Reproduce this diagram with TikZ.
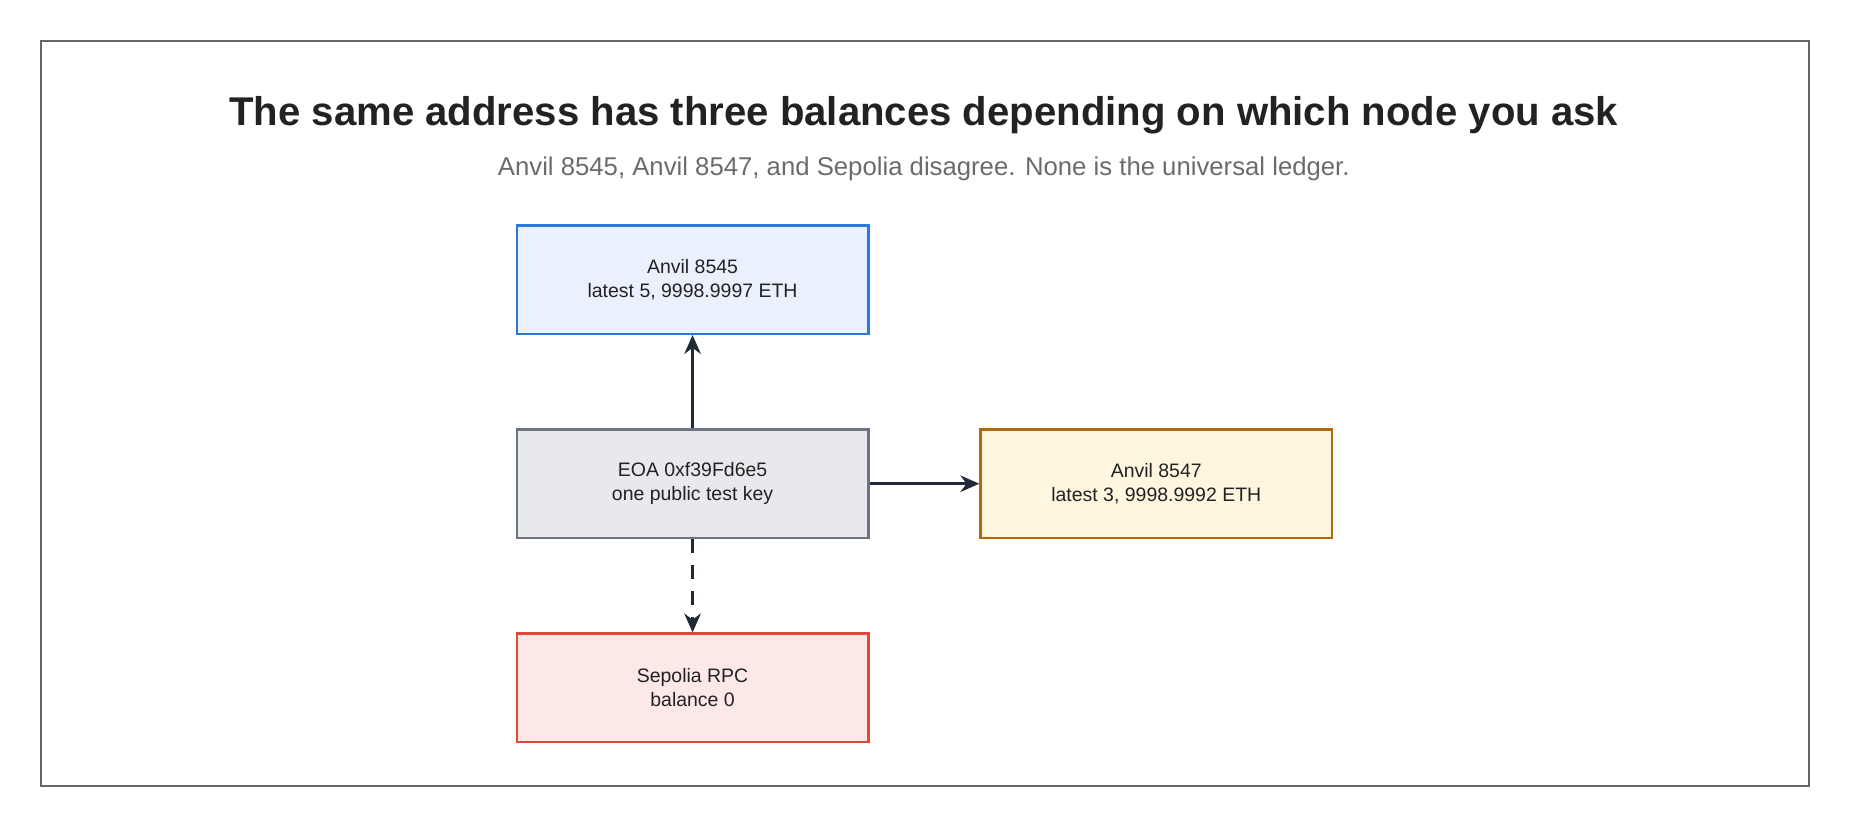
\documentclass[tikz,border=0pt]{standalone}
\usepackage{fontspec}
\setmainfont{Liberation Sans}
\usetikzlibrary{positioning,arrows.meta}
\definecolor{ink}{HTML}{222222}
\definecolor{subgrey}{HTML}{6B6B6B}
\definecolor{arrowc}{HTML}{1F2937}
\definecolor{framec}{HTML}{666666}
\definecolor{bluefill}{HTML}{E8F1FD}
\definecolor{blueline}{HTML}{2A7AD6}
\definecolor{greyfill}{HTML}{E8E9EC}
\definecolor{greyline}{HTML}{6E7382}
\definecolor{amberfill}{HTML}{FFF6E0}
\definecolor{amberline}{HTML}{B06A10}
\definecolor{redfill}{HTML}{FCE8E6}
\definecolor{redline}{HTML}{E0483A}
\tikzset{
  box/.style={draw, line width=1pt, minimum width=149pt, minimum height=46pt,
    align=center, font=\fontsize{8.25}{10.2}\selectfont, text=ink},
  bluebox/.style={box, fill=bluefill, draw=blueline},
  grey/.style={box, fill=greyfill, draw=greyline},
  amber/.style={box, fill=amberfill, draw=amberline},
  redbox/.style={box, fill=redfill, draw=redline},
  link/.style={-{Stealth[length=8pt,width=7pt]}, line width=1.2pt, draw=arrowc}
}
\begin{document}
\begin{tikzpicture}[x=0.5pt,y=-0.5pt]
    \useasboundingbox (0,0) rectangle (1568,701);
    \draw[draw=framec, line width=0.8pt] (35,35) rectangle (1533,666);

    % title
    \node[font=\bfseries\fontsize{17}{20}\selectfont, text=ink] (title) at (783,98)
        {The same address has three balances depending on which node you ask};
    \node[font=\fontsize{10.9}{13}\selectfont, text=subgrey] (sub) at (783,143)
        {Anvil 8545, Anvil 8547, and Sepolia disagree. None is the universal ledger.};

    % nodes
    \node[grey] (eoa) at (587,410) {EOA 0xf39Fd6e5\\one public test key};
    \node[bluebox] (a8545) at (587,237) {Anvil 8545\\latest 5, 9998.9997 ETH};
    \node[amber] (a8547) at (980,410) {Anvil 8547\\latest 3, 9998.9992 ETH};
    \node[redbox] (sep) at (587,583) {Sepolia RPC\\balance 0};

    % connectors
    \draw[link] (eoa) -- (a8545);
    \draw[link] (eoa) -- (a8547);
    \draw[link, dash pattern=on 6pt off 5pt] (eoa) -- (sep);
\end{tikzpicture}
\end{document}
